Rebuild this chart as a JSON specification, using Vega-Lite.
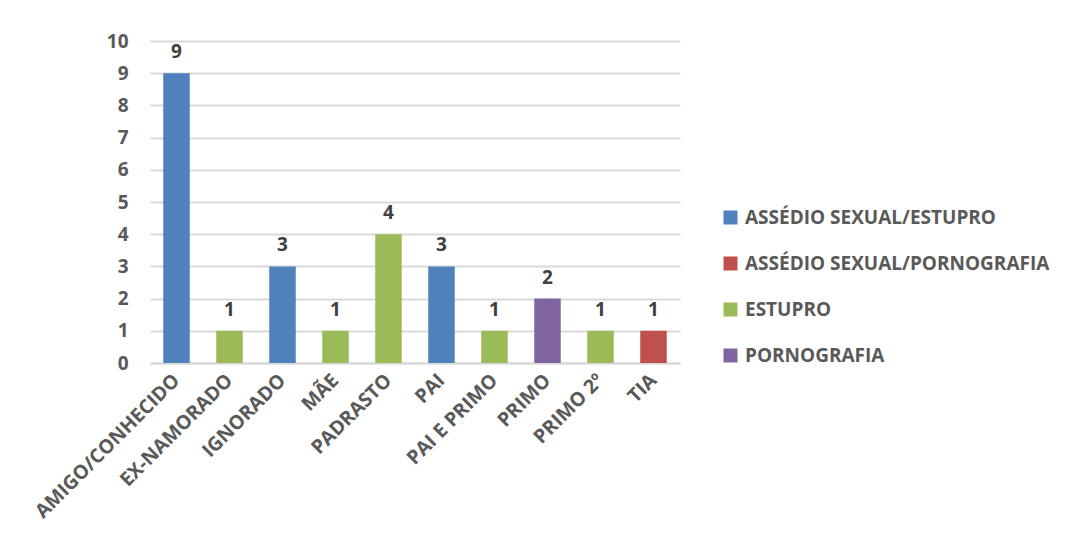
{
  "$schema": "https://vega.github.io/schema/vega-lite/v6.json",
  "autosize": {"type": "none"},
  "width": 530,
  "height": 322,
  "padding": {"left": 150, "top": 41, "right": 398, "bottom": 191},
  "background": "white",
  "config": {
    "view": {"stroke": null},
    "font": "Open Sans"
  },
  "data": {
    "values": [
      {"agressor": "AMIGO/CONHECIDO", "tipo": "ASSÉDIO SEXUAL/ESTUPRO", "n": 9},
      {"agressor": "EX-NAMORADO", "tipo": "ESTUPRO", "n": 1},
      {"agressor": "IGNORADO", "tipo": "ASSÉDIO SEXUAL/ESTUPRO", "n": 3},
      {"agressor": "MÃE", "tipo": "ESTUPRO", "n": 1},
      {"agressor": "PADRASTO", "tipo": "ESTUPRO", "n": 4},
      {"agressor": "PAI", "tipo": "ASSÉDIO SEXUAL/ESTUPRO", "n": 3},
      {"agressor": "PAI E PRIMO", "tipo": "ESTUPRO", "n": 1},
      {"agressor": "PRIMO", "tipo": "PORNOGRAFIA", "n": 2},
      {"agressor": "PRIMO 2º", "tipo": "ESTUPRO", "n": 1},
      {"agressor": "TIA", "tipo": "ASSÉDIO SEXUAL/PORNOGRAFIA", "n": 1}
    ]
  },
  "encoding": {
    "x": {
      "field": "agressor",
      "type": "nominal",
      "sort": null,
      "title": null,
      "scale": {"paddingInner": 0.5, "paddingOuter": 0.25},
      "axis": {
        "labelAngle": -45,
        "labelAlign": "right",
        "labelBaseline": "middle",
        "labelFontSize": 19.5,
        "labelFontWeight": "bold",
        "labelColor": "#595959",
        "labelPadding": 14,
        "labelOverlap": false,
        "labelLimit": 300,
        "ticks": false,
        "domainColor": "#d9d9d9",
        "domainWidth": 2
      }
    },
    "y": {
      "field": "n",
      "type": "quantitative",
      "title": null,
      "scale": {"domain": [0, 10]},
      "axis": {
        "values": [0,1,2,3,4,5,6,7,8,9,10],
        "labelOverlap": false,
        "labelFontSize": 19,
        "labelFontWeight": "bold",
        "labelColor": "#595959",
        "labelPadding": 22,
        "ticks": false,
        "domain": false,
        "gridColor": "#d9d9d9",
        "gridWidth": 2
      }
    }
  },
  "layer": [
    {
      "mark": {"type": "bar"},
      "encoding": {
        "color": {
          "field": "tipo",
          "type": "nominal",
          "title": null,
          "scale": {
            "domain": ["ASSÉDIO SEXUAL/ESTUPRO", "ASSÉDIO SEXUAL/PORNOGRAFIA", "ESTUPRO", "PORNOGRAFIA"],
            "range": ["#4f81bd", "#c0504d", "#9bbb59", "#8064a2"]
          },
          "legend": {
            "orient": "none",
            "legendX": 571,
            "legendY": 167,
            "symbolType": "square",
            "symbolSize": 196,
            "symbolStrokeWidth": 0,
            "symbolOpacity": 1,
            "labelFontSize": 19,
            "labelFontWeight": "bold",
            "labelColor": "#595959",
            "labelOffset": 5,
            "rowPadding": 26,
            "labelLimit": 400
          }
        }
      }
    },
    {
      "mark": {"type": "text", "baseline": "bottom", "dy": -11, "fontSize": 19, "fontWeight": "bold", "color": "#404040"},
      "encoding": {"text": {"field": "n", "type": "quantitative"}}
    }
  ]
}
